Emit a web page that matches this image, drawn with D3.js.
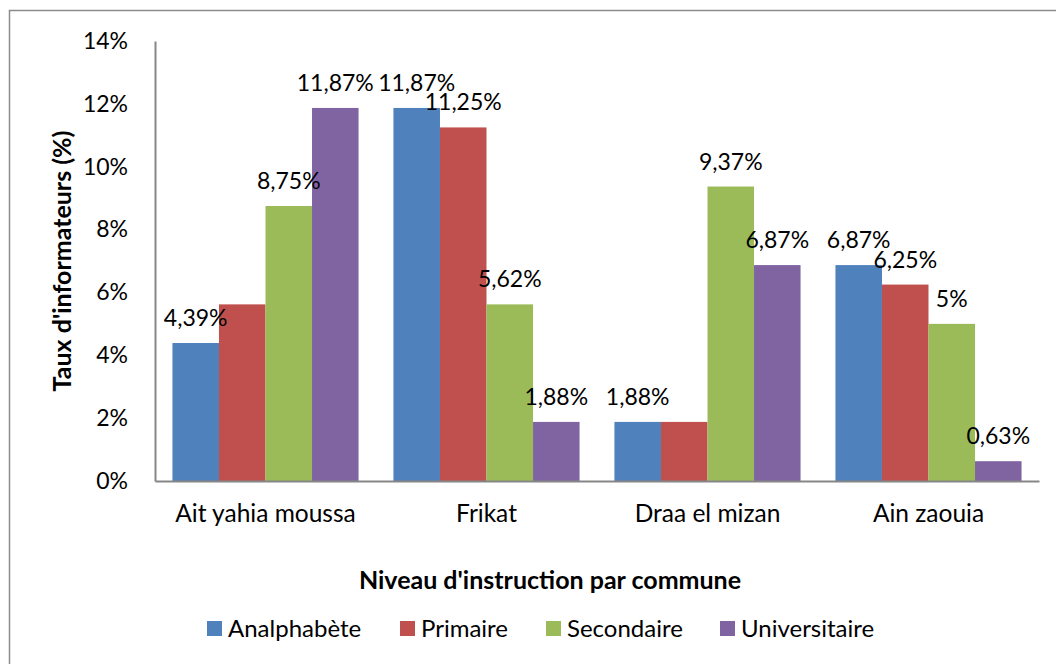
<!DOCTYPE html>
<html>
<head>
<meta charset="utf-8">
<style>
  body { margin: 0; background: #fff; }
  text { font-family: Lato, "Open Sans", sans-serif; fill: #000; }
</style>
<title>Taux d'informateurs par niveau d'instruction</title>
</head>
<body>
<script src="https://cdn.jsdelivr.net/npm/d3@7/dist/d3.min.js"></script>
<script>
  // data
  var communes = ["Ait yahia moussa", "Frikat", "Draa el mizan", "Ain zaouia"];
  var niveaux = ["Analphabète", "Primaire", "Secondaire", "Universitaire"];
  var analphabete = [4.39, 11.87, 1.88, 6.87];
  var primaire = [5.62, 11.25, 1.88, 6.25];
  var secondaire = [8.75, 5.62, 9.37, 5];
  var universitaire = [11.87, 1.88, 6.87, 0.63];
  var yTicks = [0, 2, 4, 6, 8, 10, 12, 14];
  // labels that are not shown in the original (they overlapped)
  var hiddenLabels = [["Ait yahia moussa", "Primaire"], ["Draa el mizan", "Primaire"]];

  var colors = ["#4F81BD", "#C0504D", "#9BBB59", "#8064A2"];
  var values = [analphabete, primaire, secondaire, universitaire];

  var w = 1056, h = 664;
  var margin = {top: 41, right: 17, bottom: 183, left: 155};

  var svg = d3.select("body").append("svg")
      .attr("width", w)
      .attr("height", h);

  // outer chart border
  svg.append("rect")
      .attr("x", 9.5).attr("y", 10.5)
      .attr("width", 1100).attr("height", 700)
      .attr("fill", "#fff")
      .attr("stroke", "#8c8c8c")
      .attr("stroke-width", 1.5);

  var x0 = d3.scaleBand().domain(communes).range([margin.left, w - margin.right]);
  var x1 = d3.scaleBand().domain(niveaux).range([0, x0.bandwidth()]).paddingOuter(0.375);
  var y = d3.scaleLinear().domain([0, 14]).range([h - margin.bottom, margin.top]);

  var rows = [];
  communes.forEach(function(c, i) {
    niveaux.forEach(function(n, j) {
      var hidden = hiddenLabels.some(function(p) { return p[0] == c && p[1] == n; });
      rows.push({commune: c, niveau: n, value: values[j][i], color: colors[j], hidden: hidden});
    });
  });

  // bars
  svg.append("g").selectAll("rect")
      .data(rows)
      .enter().append("rect")
      .attr("x", function(d) { return x0(d.commune) + x1(d.niveau); })
      .attr("y", function(d) { return y(d.value); })
      .attr("width", x1.bandwidth())
      .attr("height", function(d) { return y(0) - y(d.value); })
      .attr("fill", function(d) { return d.color; });

  // value labels
  svg.append("g").selectAll("text")
      .data(rows.filter(function(d) { return !d.hidden; }))
      .enter().append("text")
      .attr("x", function(d) { return x0(d.commune) + x1(d.niveau) + x1.bandwidth() / 2; })
      .attr("y", function(d) { return y(d.value) - 17; })
      .attr("text-anchor", "middle")
      .style("font-size", "23px")
      .text(function(d) { return String(d.value).replace(".", ",") + "%"; });

  // y axis
  var yAxis = d3.axisLeft(y).tickValues(yTicks).tickSize(0).tickPadding(27)
      .tickFormat(function(d) { return d + "%"; });
  var gy = svg.append("g")
      .attr("transform", "translate(" + margin.left + ",0)")
      .call(yAxis);
  gy.select(".domain").attr("stroke", "#868686").attr("stroke-width", 2);
  gy.selectAll("text").style("font-size", "23px").attr("fill", "#000");

  // x axis
  var xAxis = d3.axisBottom(x0).tickSize(0).tickPadding(24);
  var gx = svg.append("g")
      .attr("transform", "translate(0," + y(0) + ")")
      .call(xAxis);
  gx.select(".domain").attr("stroke", "#868686").attr("stroke-width", 2);
  gx.selectAll("text").style("font-size", "24.5px").attr("fill", "#000");

  // axis titles
  svg.append("text")
      .attr("transform", "translate(71," + ((y(0) + y(14)) / 2) + ") rotate(-90)")
      .attr("text-anchor", "middle")
      .style("font-size", "25px")
      .style("font-weight", "bold")
      .text("Taux d'informateurs (%)");

  svg.append("text")
      .attr("x", 550).attr("y", 589)
      .attr("text-anchor", "middle")
      .style("font-size", "25px")
      .style("font-weight", "bold")
      .text("Niveau d'instruction par commune");

  // legend
  var legendX = [207, 400, 546, 720];
  var legend = svg.append("g").selectAll("g")
      .data(niveaux)
      .enter().append("g")
      .attr("transform", function(d, i) { return "translate(" + legendX[i] + ",621)"; });
  legend.append("rect")
      .attr("width", 15).attr("height", 15)
      .attr("fill", function(d, i) { return colors[i]; });
  legend.append("text")
      .attr("x", 21).attr("y", 16)
      .style("font-size", "24px")
      .text(function(d) { return d; });
</script>
</body>
</html>
